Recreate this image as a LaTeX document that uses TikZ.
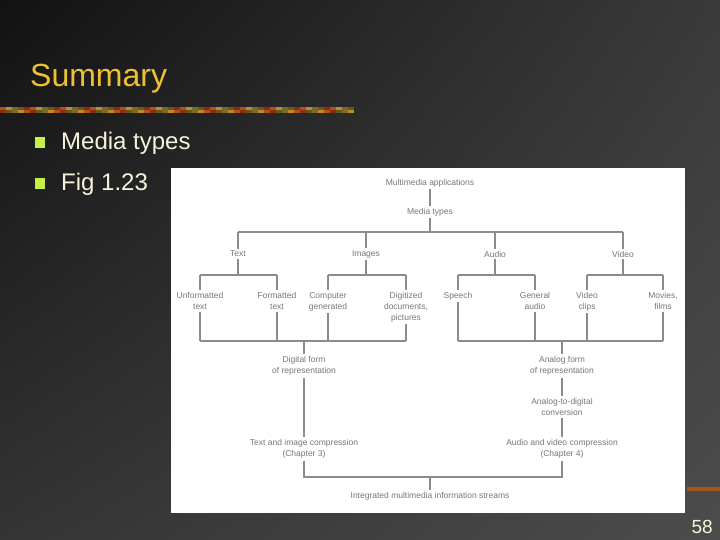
\documentclass[tikz,border=0pt]{standalone}
\usepackage{fontspec}
\setmainfont{Liberation Sans}
\usetikzlibrary{shadings}
\definecolor{bgA}{HTML}{121212}
\definecolor{bgB}{HTML}{3A3A3A}
\definecolor{bgC}{HTML}{343434}
\definecolor{bgD}{HTML}{4C4C4C}
\definecolor{titlec}{HTML}{EDC232}
\definecolor{bulletc}{HTML}{C8EE48}
\definecolor{bodyc}{HTML}{F6F2DE}
\definecolor{linec}{HTML}{8C8C8C}
\definecolor{labc}{HTML}{777777}
\definecolor{dA}{HTML}{C48A22}
\definecolor{dB}{HTML}{8E2A12}
\definecolor{dC}{HTML}{7C6A2C}
\definecolor{dD}{HTML}{A8541A}
\definecolor{dE}{HTML}{5E5A22}
\begin{document}
\begin{tikzpicture}[x=1pt,y=-1pt,
  lab/.style={font=\fontsize{8.5}{11}\selectfont, text=labc, align=center, inner sep=2pt},
  leaf/.style={lab, anchor=north},
  conn/.style={draw=linec, line width=1.6pt}]
\useasboundingbox (0,0) rectangle (720,540);
% background
\shade[upper left=bgA, upper right=bgB, lower left=bgC, lower right=bgD] (0,0) rectangle (720,540);
% title
\node[anchor=base west, inner sep=0, font=\fontsize{32}{32}\selectfont, text=titlec] (title) at (30,87) {Summary};
% decorative bar (mottled)
\foreach \i in {0,...,58} {
  \pgfmathsetmacro{\ca}{mod(\i*7+3,5)}
  \pgfmathsetmacro{\cb}{mod(\i*3+1,5)}
  \ifcase\fpeval{round(\ca)}\relax \colorlet{segA}{dA}\or\colorlet{segA}{dB}\or\colorlet{segA}{dC}\or\colorlet{segA}{dD}\or\colorlet{segA}{dE}\fi
  \ifcase\fpeval{round(\cb)}\relax \colorlet{segB}{dA}\or\colorlet{segB}{dB}\or\colorlet{segB}{dC}\or\colorlet{segB}{dD}\or\colorlet{segB}{dE}\fi
  \fill[segA] ({\i*6},107) rectangle ({\i*6+6},110);
  \fill[segB] ({\i*6},110) rectangle ({\i*6+6},113);
}
\fill[dD] (687,487) rectangle (720,491);
% bullets
\fill[bulletc] (35,137) rectangle (45,148);
\fill[bulletc] (35,178) rectangle (45,189);
\node[anchor=base west, inner sep=0, font=\fontsize{24}{24}\selectfont, text=bodyc] (b1) at (61,150) {Media types};
\node[anchor=base west, inner sep=0, font=\fontsize{24}{24}\selectfont, text=bodyc] (b2) at (61,191) {Fig 1.23};
% page number
\node[anchor=base east, inner sep=0, font=\fontsize{19}{19}\selectfont, text=bodyc] (pg) at (713,533) {58};
% figure panel
\fill[white] (171,168) rectangle (685,513);
% nodes
\node[lab] (ma) at (430,183) {Multimedia applications};
\node[lab] (mt) at (430,212) {Media types};
\node[lab] (text) at (238,254) {Text};
\node[lab] (images) at (366,254) {Images};
\node[lab] (audio) at (495,254) {Audio};
\node[lab] (video) at (623,254) {Video};
\node[leaf] (unf) at (200,290) {Unformatted\\text};
\node[leaf] (fmt) at (277,290) {Formatted\\text};
\node[leaf] (cg) at (328,290) {Computer\\generated};
\node[leaf] (dig) at (406,290) {Digitized\\documents,\\pictures};
\node[leaf] (sp) at (458,290) {Speech};
\node[leaf] (ga) at (535,290) {General\\audio};
\node[leaf] (vc) at (587,290) {Video\\clips};
\node[leaf] (mf) at (663,290) {Movies,\\films};
\node[lab] (dform) at (304,366) {Digital form\\of representation};
\node[lab] (aform) at (562,366) {Analog form\\of representation};
\node[lab] (a2d) at (562,407) {Analog-to-digital\\conversion};
\node[lab] (avc) at (562,449) {Audio and video compression\\(Chapter 4)};
\node[lab] (tic) at (304,449) {Text and image compression\\(Chapter 3)};
\node[lab] (ims) at (430,496) {Integrated multimedia information streams};
% junction coordinates
\coordinate (jm) at (430,232);
\coordinate (jt) at (238,275);
\coordinate (ji) at (366,275);
\coordinate (ja) at (495,275);
\coordinate (jv) at (623,275);
\coordinate (jd) at (304,341);
\coordinate (jan) at (562,341);
\coordinate (jb) at (430,477);
% connectors
\draw[conn] (ma) -- (mt);
\draw[conn] (mt) -- (jm);
\draw[conn] (text |- jm) -- (video |- jm);
\foreach \n in {text,images,audio,video} \draw[conn] (\n) -- (\n |- jm);
\draw[conn] (text) -- (jt);
\draw[conn] (images) -- (ji);
\draw[conn] (audio) -- (ja);
\draw[conn] (video) -- (jv);
\draw[conn] (unf.north |- jt) -- (fmt.north |- jt);
\draw[conn] (cg.north |- ji) -- (dig.north |- ji);
\draw[conn] (sp.north |- ja) -- (ga.north |- ja);
\draw[conn] (vc.north |- jv) -- (mf.north |- jv);
\draw[conn] (unf.north |- jt) -- (unf);
\draw[conn] (fmt.north |- jt) -- (fmt);
\draw[conn] (cg.north |- ji) -- (cg);
\draw[conn] (dig.north |- ji) -- (dig);
\draw[conn] (sp.north |- ja) -- (sp);
\draw[conn] (ga.north |- ja) -- (ga);
\draw[conn] (vc.north |- jv) -- (vc);
\draw[conn] (mf.north |- jv) -- (mf);
\draw[conn] (unf.north |- jd) -- (dig.north |- jd);
\draw[conn] (sp.north |- jan) -- (mf.north |- jan);
\foreach \n in {unf,fmt,cg,dig} \draw[conn] (\n) -- (\n.north |- jd);
\foreach \n in {sp,ga,vc,mf} \draw[conn] (\n) -- (\n.north |- jan);
\draw[conn] (jd) -- (dform);
\draw[conn] (jan) -- (aform);
\draw[conn] (dform) -- (tic);
\draw[conn] (aform) -- (a2d);
\draw[conn] (a2d) -- (avc);
\draw[conn] (tic) -- (tic |- jb) -- (avc |- jb) -- (avc);
\draw[conn] (jb) -- (ims);
\end{tikzpicture}
\end{document}
